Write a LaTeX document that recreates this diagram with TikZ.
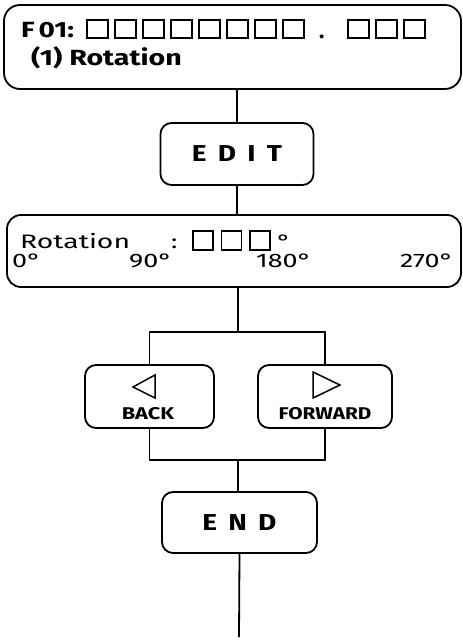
\documentclass[tikz,border=0pt]{standalone}
\usepackage{graphicx}
\usepackage{fontspec}
\setmainfont{Fira Sans}
\newcommand\hstretch[2]{\scalebox{#1}[1]{#2}}
\begin{document}
\begin{tikzpicture}[x=1pt,y=-1pt,
  box/.style={draw,line width=1.8pt,rounded corners=11pt,inner sep=0pt},
  conn/.style={line width=1.8pt},
  sq/.style={line width=1.2pt},
  tri/.style={line width=1.5pt,line join=miter},
  txt/.style={inner sep=0pt,anchor=base west},
  big/.style={font=\fontsize{22}{22}\selectfont\bfseries},
  mid/.style={font=\fontsize{19.5}{19.5}\selectfont},
  key/.style={font=\fontsize{23}{23}\selectfont\bfseries},
  small/.style={font=\fontsize{17}{17}\selectfont\bfseries}]
\useasboundingbox (0,0) rectangle (463,640);
% boxes
\node[box,minimum width=457pt,minimum height=84pt,rounded corners=16pt] (top) at (232.5,47) {};
\node[box,key,minimum width=153pt,minimum height=62pt] (edit) at (237,154) {\hstretch{1.22}{E\hspace{0.4em}D\hspace{0.4em}I\hspace{0.4em}T}};
\node[box,minimum width=454pt,minimum height=72pt,rounded corners=14pt] (rot) at (234,251) {};
\node[box,minimum width=129pt,minimum height=63pt] (back) at (149.5,396.5) {};
\node[box,minimum width=134pt,minimum height=63pt] (fwd) at (325,396.5) {};
\node[box,key,minimum width=155pt,minimum height=61pt] (endb) at (239.5,522.5) {\hstretch{1.22}{E\hspace{0.4em}N\hspace{0.4em}D}};
% top box text
\node[txt,big] (f01) at (21,37) {\hstretch{1.27}{F\kern3pt 01:}};
\foreach \i in {0,...,7} \draw[sq] (87+28*\i,20) rectangle ++(21,18);
\node[txt,big] (dot) at (319,38) {.};
\foreach \i in {0,1,2} \draw[sq] (348+28*\i,20) rectangle ++(21,18);
\node[txt,big] (title) at (31,65) {\hstretch{1.3}{(1) Rotation}};
% rotation box text
\node[txt,mid] (rl) at (20,248) {\hstretch{1.45}{Rotation}};
\node[txt,mid] (colon) at (171,248) {\hstretch{1.35}{:}};
\foreach \i in {0,1,2} \draw[sq] (193+28.5*\i,231) rectangle ++(20,19);
\node[txt,mid] (deg) at (277,248) {\hstretch{1.35}{°}};
\node[txt,mid] (d0) at (12,267) {\hstretch{1.38}{0°}};
\node[txt,mid] (d90) at (129,267) {\hstretch{1.38}{90°}};
\node[txt,mid] (d180) at (256,267) {\hstretch{1.38}{180°}};
\node[txt,mid,anchor=base east] (d270) at (454,267) {\hstretch{1.38}{270°}};
% back / forward
\draw[tri] (133,387) -- (155,375) -- (155,398) -- cycle;
\node[small,inner sep=0pt,anchor=base] (bl) at (148,419) {\hstretch{1.28}{BACK}};
\draw[tri] (340,385) -- (313,372) -- (313,398) -- cycle;
\node[small,inner sep=0pt,anchor=base] (fl) at (325,419) {\hstretch{1.22}{FORWARD}};
% connectors
\coordinate (jt) at (238,332);
\coordinate (jb) at (238,460);
\coordinate (tail) at (239,637);
\draw[conn] (top.south -| edit.north) -- (edit.north);
\draw[conn] (edit.south) -- (edit.south |- rot.north);
\draw[conn] (rot.south -| jt) -- (jt);
\draw[conn] (back.north) |- (jt) -| (fwd.north);
\draw[conn] (back.south) |- (jb) -| (fwd.south);
\draw[conn] (jb) -- (endb.north -| jb);
\draw[conn] (endb.south) -- (tail);
\end{tikzpicture}
\end{document}
